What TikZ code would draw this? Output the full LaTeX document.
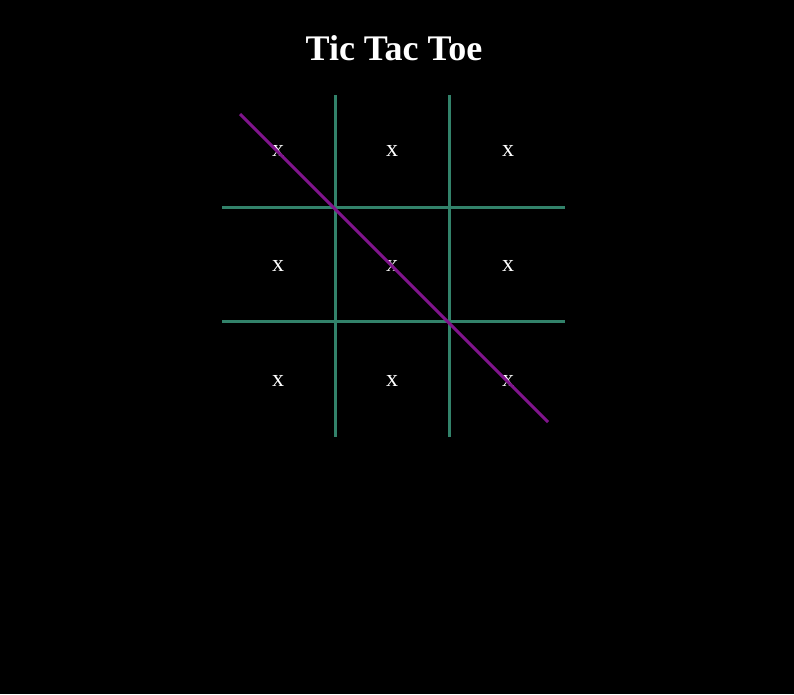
\documentclass[tikz,border=0pt]{standalone}
\usepackage{fontspec}
\setmainfont{Liberation Serif}
\definecolor{gridgreen}{RGB}{50,130,106}
\definecolor{winpurple}{RGB}{128,20,140}
\begin{document}
\begin{tikzpicture}[x=0.75pt,y=-0.75pt]
\fill[black] (0,0) rectangle (794,694);
\useasboundingbox (0,0) rectangle (794,694);
\node[text=white,font=\bfseries\fontsize{27}{30}\selectfont] (title) at (394,48) {Tic Tac Toe};
\node[text=white,font=\fontsize{18}{20}\selectfont] (c11) at (278,151) {x};
\node[text=white,font=\fontsize{18}{20}\selectfont] (c12) at (392,151) {x};
\node[text=white,font=\fontsize{18}{20}\selectfont] (c13) at (508,151) {x};
\node[text=white,font=\fontsize{18}{20}\selectfont] (c21) at (278,266) {x};
\node[text=white,font=\fontsize{18}{20}\selectfont] (c22) at (392,266) {x};
\node[text=white,font=\fontsize{18}{20}\selectfont] (c23) at (508,266) {x};
\node[text=white,font=\fontsize{18}{20}\selectfont] (c31) at (278,381) {x};
\node[text=white,font=\fontsize{18}{20}\selectfont] (c32) at (392,381) {x};
\node[text=white,font=\fontsize{18}{20}\selectfont] (c33) at (508,381) {x};
\draw[gridgreen,line width=2.25pt] (335,95) -- (335,437);
\draw[gridgreen,line width=2.25pt] (449,95) -- (449,437);
\draw[gridgreen,line width=2.25pt] (222,207) -- (565,207);
\draw[gridgreen,line width=2.25pt] (222,321) -- (565,321);
\draw[winpurple,line width=2.25pt] (240,114) -- (548,422);
\end{tikzpicture}
\end{document}
